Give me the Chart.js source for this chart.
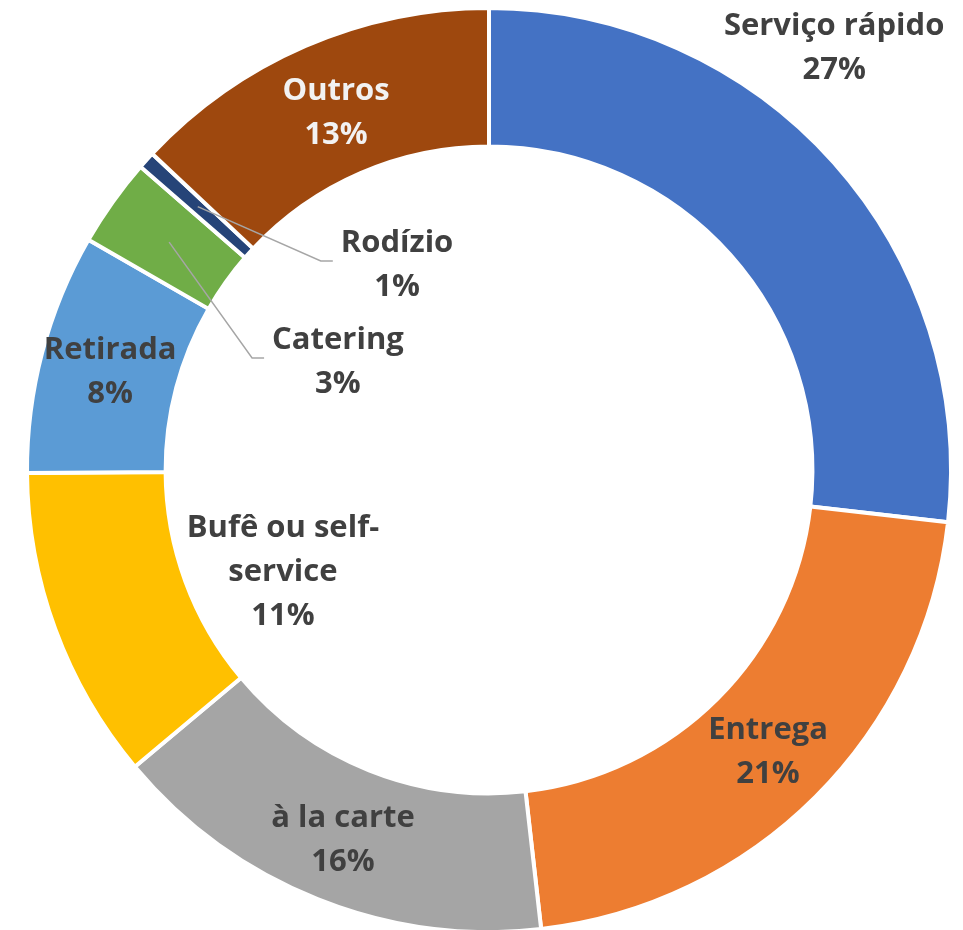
<!DOCTYPE html>
<html><head><meta charset="utf-8">
<script src="https://cdn.jsdelivr.net/npm/chart.js@4/dist/chart.umd.min.js"></script>
<style>html,body{margin:0;padding:0;background:#fff;overflow:hidden}#wrap{width:963px;height:930px;position:relative}</style>
</head><body><div id="wrap"><canvas id="c"></canvas></div>
<script>
// ---- data ----
const categories = ['Serviço rápido', 'Entrega', 'à la carte', 'Bufê ou self-service', 'Retirada', 'Catering', 'Rodízio', 'Outros'];
const shares = [26.8, 21.4, 15.7, 11.0, 8.4, 3.1, 0.6, 13.0];

// ---- styles ----
const sliceColors = ['#4472C4', '#ED7D31', '#A5A5A5', '#FFC000', '#5B9BD5', '#70AD47', '#264478', '#9E480E'];
const labelColors = ['#404040', '#404040', '#404040', '#404040', '#404040', '#404040', '#404040', '#F2F2F2'];
// label block centre relative to chart centre, in units of outer radius
const labelPlacement = [
  {dx: 0.747, dy: -0.918},
  {dx: 0.604, dy: 0.606},
  {dx: -0.316, dy: 0.797},
  {dx: -0.446, dy: 0.216, maxWidth: 210},
  {dx: -0.820, dy: -0.216},
  {dx: -0.327, dy: -0.238, leader: true},
  {dx: -0.199, dy: -0.448, leader: true},
  {dx: -0.331, dy: -0.777}
];
const FONT = 'bold 31px "Open Sans"';
const LINE_GAP = 44;
const CAP = 22;

function wrapText(ctx, text, maxWidth) {
  if (!maxWidth) return [text];
  const tokens = text.match(/[^\s-]+-?|\s+/g) || [text];
  const lines = [];
  let cur = '';
  for (const t of tokens) {
    const test = cur + t;
    if (cur.trim() && ctx.measureText(test.trim()).width > maxWidth) {
      lines.push(cur.trim());
      cur = t.trim() ? t : '';
    } else cur = test;
  }
  if (cur.trim()) lines.push(cur.trim());
  return lines;
}

const labelPlugin = {
  id: 'sliceLabels',
  afterDatasetsDraw(chart) {
    const ctx = chart.ctx;
    const meta = chart.getDatasetMeta(0);
    const data = chart.data.datasets[0].data;
    const total = data.reduce((a, b) => a + b, 0);
    ctx.save();
    ctx.font = FONT;
    meta.data.forEach((arc, i) => {
      const p = arc.getProps(['x', 'y', 'outerRadius'], true);
      const R = p.outerRadius;
      const place = labelPlacement[i];
      const cx = p.x + place.dx * R;
      const cy = p.y + place.dy * R;
      const lines = wrapText(ctx, chart.data.labels[i], place.maxWidth);
      lines.push(Math.round(data[i] / total * 100) + '%');
      const n = lines.length;
      const base1 = cy - ((n - 1) * LINE_GAP - CAP) / 2;
      if (place.leader) {
        const start = arc.tooltipPosition(true);
        const endX = cx - ctx.measureText(lines[0]).width / 2 - 8;
        const endY = cy - 2;
        ctx.strokeStyle = '#A6A6A6';
        ctx.lineWidth = 1.5;
        ctx.beginPath();
        ctx.moveTo(start.x, start.y);
        ctx.lineTo(endX - 12, endY);
        ctx.lineTo(endX, endY);
        ctx.stroke();
      }
      ctx.fillStyle = labelColors[i];
      ctx.textAlign = 'center';
      ctx.textBaseline = 'alphabetic';
      lines.forEach((l, k) => ctx.fillText(l, cx, base1 + k * LINE_GAP));
    });
    ctx.restore();
  }
};

new Chart(document.getElementById('c'), {
  type: 'doughnut',
  data: {
    labels: categories,
    datasets: [{
      data: shares,
      backgroundColor: sliceColors,
      borderColor: '#FFFFFF',
      borderWidth: 4,
      hoverOffset: 0
    }]
  },
  options: {
    responsive: true,
    maintainAspectRatio: false,
    animation: false,
    events: [],
    cutout: '70%',
    radius: 462,
    layout: {padding: {top: 10, bottom: 0, left: 15, right: 0}},
    plugins: {legend: {display: false}, tooltip: {enabled: false}}
  },
  plugins: [labelPlugin]
});
</script>
</body></html>
